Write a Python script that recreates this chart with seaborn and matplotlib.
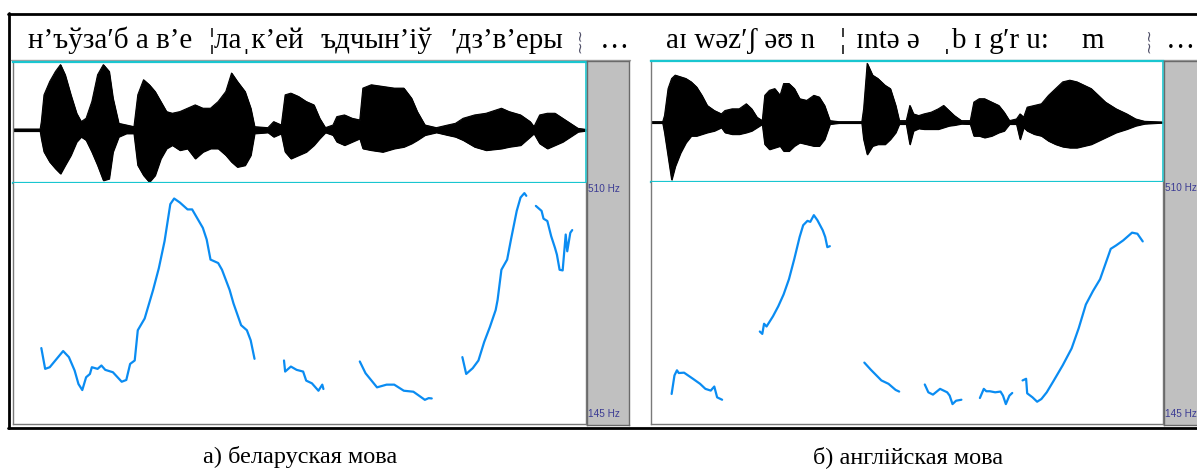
import numpy as np
import pandas as pd
import matplotlib
matplotlib.use("Agg")
import matplotlib.pyplot as plt
import seaborn as sns

# ---------------- data (time in display frames, amplitude in relative units, pitch in Hz) -------------
# Belarusian: waveform envelope
BY_WAVE_T = [35,105,108,115,130,145,158,170,185,200,212,225,240,255,270,285,295,310,330,350,
             360,375,390,405,420,435,450,470,490,510,530,550,570,590,605,620,640,655,665,700,
             715,735,745,760,780,800,820,835,850,870,880,900,920,940,948,970,1000,1030,1055,1075,
             1090,1110,1140,1170,1190,1210,1240,1270,1310,1330,1360,1385,1395,1410,1430,1450,1470,1490,1510,1530]
BY_WAVE_UP = [3,3,25,105,145,175,195,165,105,50,25,35,85,165,195,175,95,20,15,10,
              105,150,135,115,85,55,50,55,65,75,65,65,85,115,170,145,115,65,10,7,
              25,15,105,110,100,85,75,35,7,15,40,45,35,30,125,135,130,125,125,95,
              55,15,7,15,20,35,45,50,65,55,45,25,10,45,50,50,35,20,5,2]
BY_WAVE_LO = [-3,-3,-25,-65,-95,-115,-130,-105,-75,-35,-20,-30,-65,-105,-150,-145,-65,-20,-10,-10,
              -105,-135,-155,-135,-85,-55,-45,-60,-55,-85,-65,-55,-55,-75,-95,-110,-105,-75,-10,-7,
              -20,-10,-65,-85,-75,-65,-45,-25,-7,-15,-35,-45,-35,-25,-55,-60,-65,-55,-50,-40,
              -30,-15,-7,-15,-20,-30,-50,-60,-55,-50,-45,-20,-10,-40,-55,-45,-35,-20,-5,-2]

# Belarusian: pitch contour segments
BY_PITCH_T = [
    [108,118,130,165,180,195,205,215,225,235,240,255,265,275,295,318,330,340,352,360,
     378,400,415,430,445,455,470,490,502,530,540,550,570,580,600,610,630,645,655,665],
    [742,745,760,775,792,800,815,832,842,845],
    [940,955,985,1010,1030,1055,1080,1095,1110,1120,1128],
    [1208,1218,1235,1250,1265,1280,1295,1300,1310,1325,1335,1350,1360,1370,1375],
    [1400,1415,1420,1430,1440,1450,1455,1462,1470,1478,1482,1490,1495],
]
BY_PITCH_HZ = [
    [260,228.5,231,255.5,246.3,226,205.6,196.4,215.8,220.8,231,228.5,233.6,227,223.4,209,211.7,236,241.2,287,
     304.8,348,381,422,478,486.5,480.4,470,470,442,424.4,394,388.8,378.6,348,327.7,294.6,287,271.7,243.7],
    [241.2,224.4,232,227,224.4,210.7,206.6,195.4,204.6,198],
    [239.7,221.9,200.5,204.6,204.6,195.4,193.9,187.8,181.6,184.2,183.7],
    [246.3,220.8,229.5,241.2,269.2,292.1,317.6,332.8,378.6,394,424.4,467.7,488,494.7,490.6],
    [475.3,467.7,456,452.4,429.5,411.7,401.5,378.6,377.6,432,406.6,434.6,438.7],
]

# English: waveform envelope
EN_WAVE_T = [32,65,70,80,90,100,115,130,145,160,175,190,210,230,240,260,280,300,315,330,
             345,352,365,380,395,405,420,435,450,470,490,505,520,535,560,625,630,640,655,670,
             690,705,720,730,750,760,770,785,800,820,840,855,870,885,905,930,940,955,970,990,
             1010,1025,1040,1060,1070,1080,1090,1110,1130,1150,1170,1190,1210,1230,1250,1270,1290,1310,1340,1370,
             1395,1420,1470]
EN_WAVE_UP = [2,2,20,100,130,140,135,130,120,105,80,50,35,25,35,40,40,55,40,15,
              5,80,95,100,80,115,115,100,70,65,80,75,50,5,2,2,40,175,140,130,
              110,100,50,5,5,50,25,20,25,30,40,50,35,20,5,5,60,70,70,60,
              50,30,5,10,25,15,45,50,55,80,100,120,125,120,110,100,80,60,40,25,
              10,3,1]
EN_WAVE_LO = [-2,-2,-30,-100,-170,-130,-90,-60,-40,-40,-35,-30,-25,-15,-30,-35,-35,-30,-25,-15,
              -5,-65,-80,-75,-70,-85,-85,-70,-60,-65,-70,-70,-50,-5,-2,-2,-50,-95,-70,-65,
              -65,-50,-30,-5,-5,-65,-25,-18,-20,-20,-20,-15,-10,-8,-4,-5,-40,-40,-45,-40,
              -30,-25,-5,-5,-50,-15,-25,-35,-40,-55,-65,-72,-75,-75,-70,-65,-55,-45,-30,-20,
              -10,-4,-1]

# English: pitch contour segments
EN_PITCH_T = [
    [90,98,105,110,125,150,170,185,200,210,218,232],
    [338,345,350,357,375,390,405,420,435,450,460,472,480,490,500,515,522,528,535],
    [632,650,680,700,720,730],
    [802,812,825,845,865,872,880,890,905],
    [957,968,975,985,1000,1015,1022,1030,1040,1048],
    [1077,1087,1090,1105,1118,1130,1145,1165,1190,1215,1235,1255,1275,1295,1315,1325,1340,1360,1385,1400,1415],
]
EN_PITCH_HZ = [
    [190.3,218.3,226,221.9,222.4,213.2,205.6,198,195.4,201.5,185.2,181.6],
    [284.5,280.9,296.2,292.1,307.4,322.6,340.5,363.4,393.9,427,444.8,451.4,449.9,460,452.4,437.2,427,411.7,413.2],
    [237.6,227,210.7,205.6,196.4,193.9],
    [204.6,192.8,189.3,198,192.8,187.8,175,180.1,181.6],
    [184.2,198,194.4,194.4,192.8,193.9,187.8,175,187.8,191.8],
    [210.7,213.2,191.3,185.2,178.6,182.7,192.8,210.7,233.6,259,289.6,325.2,345.5,363.4,393.9,409.2,414.3,421.9,433.6,432,420.4],
]

PITCH_RANGE = [145, 510]
RANGE_LABELS = ["510 Hz", "145 Hz"]
BY_TRANSCRIPTION = ["н’ъўза′б а в’е", "¦лаˌк’ей", "ъдчын’іў", "′дз’в’еры"]
EN_TRANSCRIPTION = ["aɪ wəz′ʃ əʊ n", "¦", "ɪntə ə", "ˌb ɪ g", "′r u:", "m"]
CAPTIONS = ["а) беларуская мова", "б) англійская мова"]

# ---------------- style ---------------------------------------------------------------------------
sns.set_theme(style="white")
plt.rcParams["font.family"] = ["Liberation Serif", "DejaVu Serif"]

W, H = 1197, 471
fig = plt.figure(figsize=(W / 100, H / 100), dpi=100)
fig.patch.set_facecolor("white")

CYAN = "#19c6d0"
PITCH_BLUE = "#0a8cf2"
FRAME_GRAY = "#7a7a7a"
BAR_GRAY = "#c0c0c0"
LABEL_BLUE = "#3b3b94"


def rect(x0, y0, x1, y1):
    return [x0 / W, 1 - y1 / H, (x1 - x0) / W, (y1 - y0) / H]


# background decorations (outer frame lines)
bg = fig.add_axes([0, 0, 1, 1])
bg.set_xlim(0, W)
bg.set_ylim(H, 0)
bg.axis("off")
bg.plot([8, W], [13.5, 13.5], color="black", lw=2.0)
bg.plot([8.5, 8.5], [13, 428], color="black", lw=2.0)
bg.plot([8, W], [427.5, 427.5], color="black", lw=2.0)
bg.plot([11, 630], [59.5, 59.5], color="#a0a0a0", lw=1.0)
bg.plot([650, W], [59.5, 59.5], color="#a0a0a0", lw=1.0)


def draw_panel(box, bar, xlim, wylim, wt, wup, wlo, pt, phz, seg_name):
    x0, y_top, y_mid, y_bot, x1 = box
    # waveform
    axw = fig.add_axes(rect(x0, y_top, x1, y_mid))
    wdf = pd.DataFrame({"t": wt, "up": wup, "lo": wlo})
    axw.fill_between(wdf["t"], wdf["lo"], wdf["up"], color="black", lw=0.8, edgecolor="black")
    sns.lineplot(data=wdf, x="t", y="up", ax=axw, color="black", lw=0.8, estimator=None, sort=False)
    sns.lineplot(data=wdf, x="t", y="lo", ax=axw, color="black", lw=0.8, estimator=None, sort=False)
    axw.axhline(0, color="#4a7f86", lw=0.6, zorder=0)
    axw.set_xlim(*xlim)
    axw.set_ylim(*wylim)
    axw.set_xticks([]); axw.set_yticks([])
    axw.set_xlabel(""); axw.set_ylabel("")
    for s in ["top", "bottom"]:
        axw.spines[s].set_color(CYAN); axw.spines[s].set_linewidth(1.6)
    axw.spines["left"].set_color(FRAME_GRAY); axw.spines["left"].set_linewidth(1.0)
    axw.spines["right"].set_color(CYAN); axw.spines["right"].set_linewidth(1.2)

    # pitch
    axp = fig.add_axes(rect(x0, y_mid, x1, y_bot))
    rows = []
    for i, (ts, hs) in enumerate(zip(pt, phz)):
        for t, h in zip(ts, hs):
            rows.append((t, h, f"{seg_name}{i}"))
    pdf = pd.DataFrame(rows, columns=["t", "hz", "seg"])
    sns.lineplot(data=pdf, x="t", y="hz", units="seg", estimator=None, sort=False,
                 color=PITCH_BLUE, lw=1.6, ax=axp)
    axp.set_xlim(*xlim)
    axp.set_ylim(*PITCH_RANGE)
    axp.set_xticks([]); axp.set_yticks([])
    axp.set_xlabel(""); axp.set_ylabel("")
    axp.spines["top"].set_visible(False)
    for s in ["left", "bottom", "right"]:
        axp.spines[s].set_color(FRAME_GRAY); axp.spines[s].set_linewidth(1.0)

    # gray range bar
    bx0, by0, bx1, by1 = bar
    axb = fig.add_axes(rect(bx0, by0, bx1, by1))
    axb.set_facecolor(BAR_GRAY)
    axb.set_xticks([]); axb.set_yticks([])
    for s in axb.spines.values():
        s.set_color("#6a6a6a"); s.set_linewidth(1.0)
    axb.text(0.03, 1 - (y_mid + 6 - by0) / (by1 - by0), RANGE_LABELS[0], transform=axb.transAxes,
             ha="left", va="center", fontsize=7.2, color=LABEL_BLUE, family=["Liberation Sans", "DejaVu Sans"])
    axb.text(0.03, 1 - (y_bot - 10 - by0) / (by1 - by0), RANGE_LABELS[1], transform=axb.transAxes,
             ha="left", va="center", fontsize=7.2, color=LABEL_BLUE, family=["Liberation Sans", "DejaVu Sans"])


draw_panel((13, 62, 183, 424, 586), (587, 61, 629, 425), (34, 1531), (-158, 203),
           BY_WAVE_T, BY_WAVE_UP, BY_WAVE_LO, BY_PITCH_T, BY_PITCH_HZ, "by")
draw_panel((651, 61, 182, 424, 1163), (1164, 61, 1205, 425), (32, 1472), (-177, 182),
           EN_WAVE_T, EN_WAVE_UP, EN_WAVE_LO, EN_PITCH_T, EN_PITCH_HZ, "en")

# transcriptions (pieces placed at their positions along the line)
TFS = 21
BASE = 48
for piece, xp in zip(BY_TRANSCRIPTION, [28, 209, 320, 451]):
    bg.text(xp, BASE, piece, fontsize=TFS, ha="left", va="baseline", color="black")
for piece, xp in zip(EN_TRANSCRIPTION, [666, 840, 856, 942, 1003, 1081]):
    bg.text(xp, BASE, piece, fontsize=TFS, ha="left", va="baseline", color="black")
for xw, xd in [(579, 600), (1148, 1166)]:
    # wavy vertical separator
    bg.text(xw, 40, "~~", fontsize=11, rotation=90, ha="center", va="center",
            color="#505068", family=["DejaVu Sans"])
    bg.text(xd, BASE, "…", fontsize=TFS, ha="left", va="baseline", color="black")

# captions
bg.text(300, 463, CAPTIONS[0], fontsize=17.5, ha="center", va="baseline", color="black")
bg.text(908, 463, CAPTIONS[1], fontsize=17.5, ha="center", va="baseline", color="black")

fig.savefig("out.png", dpi=100, facecolor="white")
